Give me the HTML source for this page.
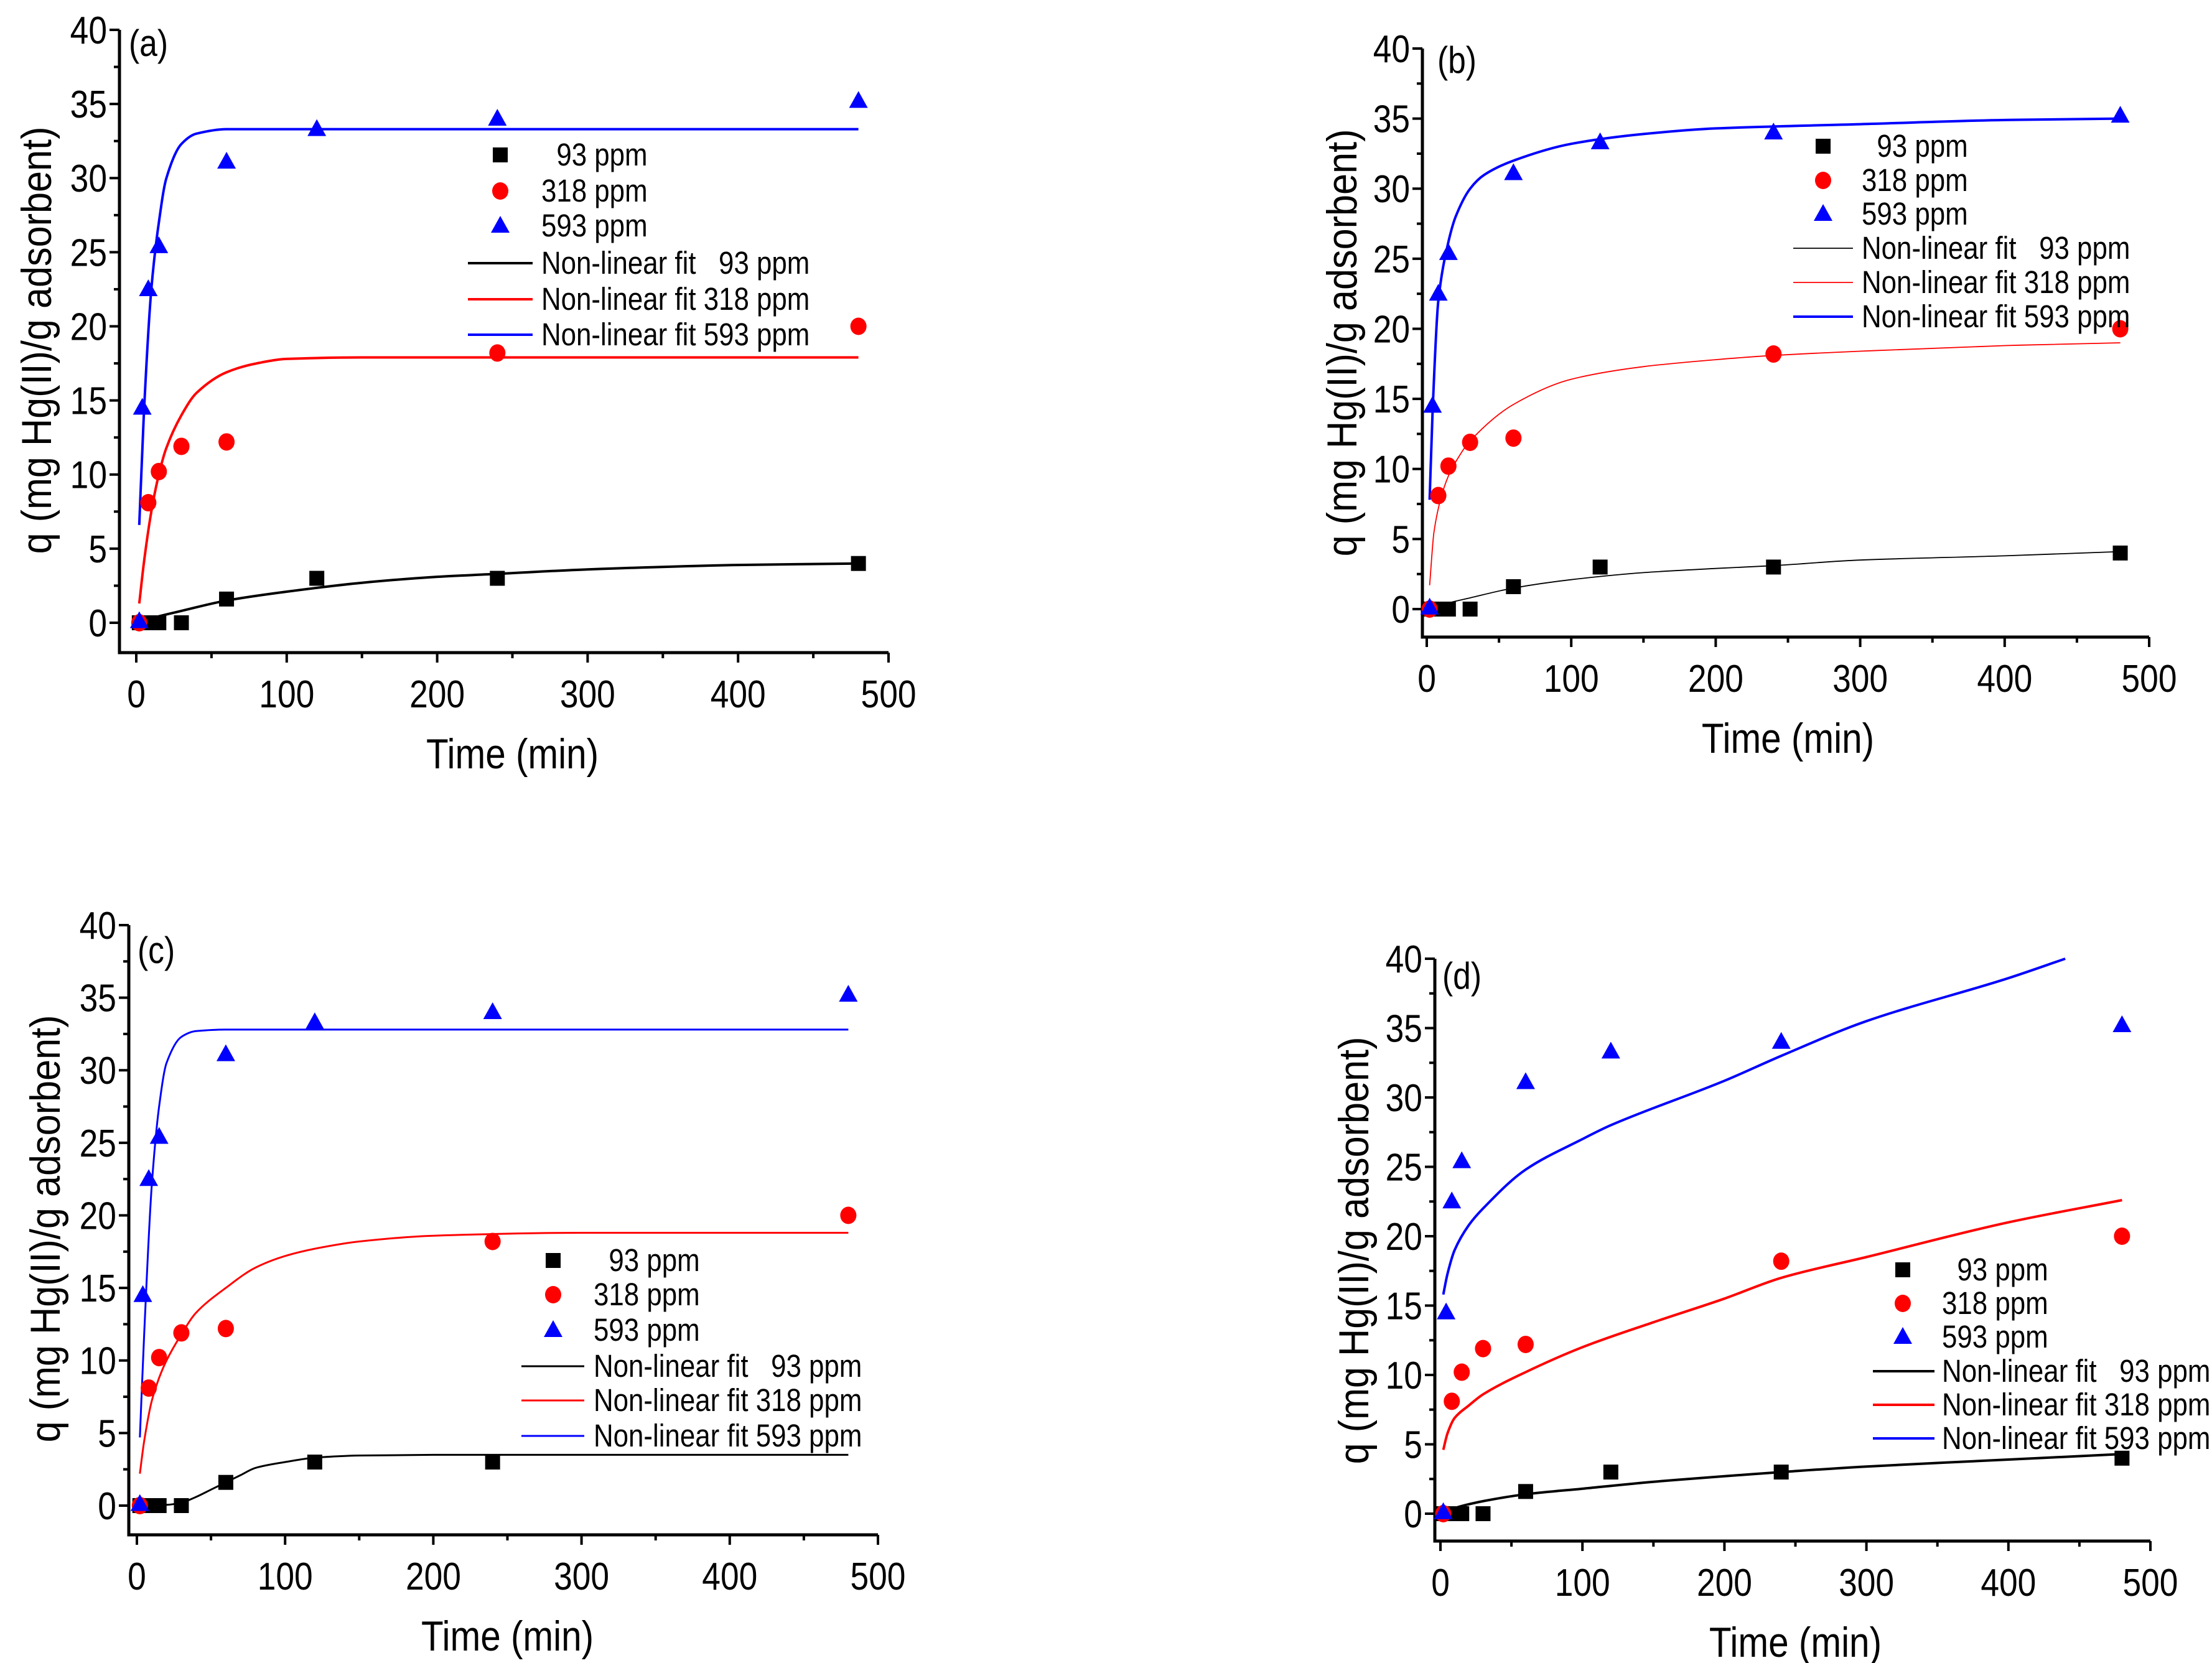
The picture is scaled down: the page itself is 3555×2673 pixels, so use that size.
<!DOCTYPE html>
<html><head><meta charset="utf-8"><style>
html,body{margin:0;padding:0;background:#fff;}
svg{display:block;font-family:"Liberation Sans",Arial,sans-serif;}
</style></head><body>
<svg id="fig" width="3555" height="2673" viewBox="0 0 3555 2673" xmlns="http://www.w3.org/2000/svg"></svg>
<script>
// ---- data ----
const xTicks = [0,100,200,300,400,500];
const yTicks = [0,5,10,15,20,25,30,35,40];
const t93 = [2,8,15,30,60,120,240,480];
const q93 = [0,0,0,0,1.6,3.0,3.0,4.0];
const t318 = [2,8,15,30,60,240,480];
const q318 = [0,8.1,10.2,11.9,12.2,18.2,20.0];
const t593 = [2,4,8,15,60,120,240,480];
const q593 = [0.1,14.5,22.5,25.4,31.1,33.3,34.0,35.2];
// fitted curves (time, value)
const fitA_t93 = [2,10,30,60,100,150,200,240,300,400,480];
const fitA_q93 = [0,0.3,0.8,1.5,2.1,2.7,3.1,3.3,3.6,3.9,4.0];
const fitA_t318 = [2,5,10,15,20,30,40,60,80,100,150,480];
const fitA_q318 = [1.3,4,7.5,10,11.8,14,15.5,16.9,17.5,17.8,17.9,17.9];
const fitA_t593 = [2,5,10,15,20,30,40,60,480];
const fitA_q593 = [6.6,14,22.5,27,30,32.3,33.0,33.3,33.3];
const fitB_t93 = [2,10,30,60,100,150,200,240,300,400,480];
const fitB_q93 = [0,0.3,0.8,1.5,2.1,2.6,2.9,3.1,3.5,3.8,4.1];
const fitB_t318 = [2,5,10,15,20,30,60,100,150,200,240,300,400,480];
const fitB_q318 = [1.7,5.5,8,9.5,10.5,12,14.6,16.4,17.3,17.8,18.1,18.4,18.8,19.0];
const fitB_t593 = [2,4,8,15,20,30,40,60,100,150,200,300,400,480];
const fitB_q593 = [7.8,14,22,26.2,28,30,31,32,33.2,33.9,34.3,34.6,34.9,35.0];
const fitC_t93 = [0,20,30,40,50,60,70,80,100,120,150,200,480];
const fitC_q93 = [0,0.05,0.2,0.6,1.1,1.6,2.1,2.6,3.0,3.3,3.45,3.5,3.5];
const fitC_t318 = [2,5,10,15,20,30,40,60,80,100,120,150,200,300,480];
const fitC_q318 = [2.2,4.5,7.2,8.8,10,11.8,13.3,15,16.4,17.2,17.7,18.2,18.6,18.8,18.8];
const fitC_t593 = [2,5,10,15,20,30,40,60,480];
const fitC_q593 = [4.7,12,22,27.5,30.5,32.3,32.7,32.8,32.8];
const fitD_t93 = [2,10,30,60,100,150,200,240,300,400,480];
const fitD_q93 = [0,0.4,0.9,1.4,1.8,2.3,2.7,3.0,3.4,3.9,4.3];
const fitD_t318 = [2,5,10,20,30,60,100,150,200,240,300,400,480];
const fitD_q318 = [4.6,5.8,6.9,7.8,8.6,10.2,12.0,13.8,15.5,17.0,18.5,21.0,22.6];
const fitD_t593 = [2,5,10,20,30,60,100,120,200,240,300,400,440];
const fitD_q593 = [15.8,17.3,19,20.8,22.0,24.8,27.0,28.0,31.2,33.0,35.5,38.6,40];

const NS="http://www.w3.org/2000/svg";
const svg=document.getElementById('fig');
function mk(tag,attrs,parent){const e=document.createElementNS(NS,tag);for(const k in attrs)e.setAttribute(k,attrs[k]);(parent||svg).appendChild(e);return e;}
const SX=0.86;
function txt(parent,x,y,size,anchor,str){
  const t=mk('text',{x:(x/SX).toFixed(1),y:y,'font-size':size,'text-anchor':anchor,fill:'#000',transform:`scale(${SX},1)`},parent);
  t.textContent=str;
  return t;
}
// monotone cubic (Fritsch-Carlson) path through pixel points
function smooth(pts){
  const n=pts.length;
  const dx=[],s=[];
  for(let i=0;i<n-1;i++){dx.push(pts[i+1][0]-pts[i][0]);s.push((pts[i+1][1]-pts[i][1])/dx[i]);}
  const m=new Array(n);
  m[0]=s[0];m[n-1]=s[n-2];
  for(let i=1;i<n-1;i++){
    if(s[i-1]*s[i]<=0) m[i]=0;
    else m[i]=2/(1/s[i-1]+1/s[i]);
  }
  let d='M'+pts[0][0].toFixed(1)+','+pts[0][1].toFixed(1);
  for(let i=0;i<n-1;i++){
    const h=dx[i]/3;
    d+=` C${(pts[i][0]+h).toFixed(1)},${(pts[i][1]+m[i]*h).toFixed(1)} ${(pts[i+1][0]-h).toFixed(1)},${(pts[i+1][1]-m[i+1]*h).toFixed(1)} ${pts[i+1][0].toFixed(1)},${pts[i+1][1].toFixed(1)}`;
  }
  return d;
}

const panels=[
 {id:'a',ax:192,x0:219,x500:1428,y40:48,y0:1001,xaxY:1049,lbl:[207,86],ylab:[58,547],skip93:[],
  leg:{sx:804,sy:[249,307,363],lx1:752,lx2:856,ly:[423,481,538],tx:870},lw:[4,4,4],
  fits:[[fitA_t93,fitA_q93],[fitA_t318,fitA_q318],[fitA_t593,fitA_q593]]},
 {id:'b',ax:2286,x0:2293,x500:3454,y40:78,y0:979,xaxY:1024,lbl:[2310,113],ylab:[2156,551],skip93:[],
  leg:{sx:2930,sy:[235,290,344],lx1:2882,lx2:2978,ly:[399,454,509],tx:2992},lw:[1.8,1.8,4],
  fits:[[fitB_t93,fitB_q93],[fitB_t318,fitB_q318],[fitB_t593,fitB_q593]]},
 {id:'c',ax:207,x0:220,x500:1411,y40:1487,y0:2420,xaxY:2467,lbl:[221,1544],ylab:[72,1975],skip93:[480],
  leg:{sx:889,sy:[2026,2081,2138],lx1:838,lx2:939,ly:[2196,2251,2308],tx:954},lw:[3,3,3],
  fits:[[fitC_t93,fitC_q93],[fitC_t318,fitC_q318],[fitC_t593,fitC_q593]]},
 {id:'d',ax:2306,x0:2315,x500:3456,y40:1541,y0:2433,xaxY:2477,lbl:[2318,1585],ylab:[2175,2010],skip93:[],
  leg:{sx:3058,sy:[2041,2095,2149],lx1:3010,lx2:3109,ly:[2204,2258,2312],tx:3121},lw:[4,4,4],
  fits:[[fitD_t93,fitD_q93],[fitD_t318,fitD_q318],[fitD_t593,fitD_q593]]}
];
const colors=['#000000','#ff0000','#0000ff'];
const names=['93','318','593'];
const scatT=[t93,t318,t593], scatQ=[q93,q318,q593];

function marker(g,kind,cx,cy,name){
  let m;
  if(kind===0) m=mk('rect',{x:cx-12,y:cy-12,width:24,height:24,fill:'#000'},g);
  else if(kind===1) m=mk('ellipse',{cx:cx,cy:cy,rx:13,ry:14,fill:'#ff0000'},g);
  else m=mk('polygon',{points:`${cx},${cy-16} ${cx+15},${cy+11} ${cx-15},${cy+11}`,fill:'#0000ff'},g);
  
  
  return m;
}

panels.forEach(p=>{
  const g=mk('g',{});
  
  
  const X=t=>p.x0+(t/500)*(p.x500-p.x0);
  const Y=q=>p.y0+(q/40)*(p.y40-p.y0);
  const axes=mk('path',{d:`M${p.ax},${p.y40} V${p.xaxY} H${p.x500}`,stroke:'#000','stroke-width':5,fill:'none'},g);
  
  
  for(let v=0;v<=40;v+=2.5){
    const major=(v%5===0);
    mk('line',{x1:p.ax,x2:p.ax-(major?16:9),y1:Y(v),y2:Y(v),stroke:'#000','stroke-width':4},g);
  }
  yTicks.forEach(v=>{
    const t=txt(g,p.ax-20,Y(v)+22,62,'end',String(v));
    
    
  });
  for(let v=0;v<=500;v+=50){
    const major=(v%100===0);
    mk('line',{x1:X(v),x2:X(v),y1:p.xaxY,y2:p.xaxY+(major?16:9),stroke:'#000','stroke-width':4},g);
  }
  xTicks.forEach(v=>{
    const t=txt(g,X(v),p.xaxY+88,62,'middle',String(v));
    
    
  });
  const xt=txt(g,(p.x0+p.x500)/2,p.xaxY+186,68,'middle','Time (min)');
  
  
  const yt=mk('text',{x:0,y:0,'text-anchor':'middle','font-size':68,fill:'#000',transform:`translate(${p.ylab[0]+24},${p.ylab[1]}) rotate(-90) scale(0.9,1)`},g);
  yt.textContent='q (mg Hg(II)/g adsorbent)';
  
  
  const pl=txt(g,p.lbl[0],p.lbl[1]+4,60,'start','('+p.id+')');
  
  
  p.fits.forEach((f,i)=>{
    const pts=f[0].map((t,k)=>[X(t),Y(f[1][k])]);
    const path=mk('path',{d:smooth(pts),stroke:colors[i],'stroke-width':p.lw[i],fill:'none','stroke-linejoin':'round'},g);
    
    
  });
  [0,1,2].forEach(i=>{
    scatT[i].forEach((t,k)=>{
      if(i===0 && p.skip93.indexOf(t)>=0) return;
      marker(g,i,X(t),Y(scatQ[i][k]),'point-'+names[i]+'ppm');
    });
  });
  const L=p.leg;
  const lg=mk('g',{},g);
  
  
  const symTxt=['\u00a0\u00a093 ppm','318 ppm','593 ppm'];
  [0,1,2].forEach(i=>{
    marker(lg,i,L.sx,L.sy[i],'legend-marker-'+names[i]);
    const t=txt(lg,L.tx,L.sy[i]+17,51,'start',symTxt[i]);
    
    
  });
  const fitTxt=['Non-linear fit \u00a0\u00a093 ppm','Non-linear fit 318 ppm','Non-linear fit 593 ppm'];
  [0,1,2].forEach(i=>{
    mk('line',{x1:L.lx1,x2:L.lx2,y1:L.ly[i],y2:L.ly[i],stroke:colors[i],'stroke-width':p.lw[i]},lg);
    const t=txt(lg,L.tx,L.ly[i]+17,51,'start',fitTxt[i]);
    
    
  });
});
</script>
</body></html>
